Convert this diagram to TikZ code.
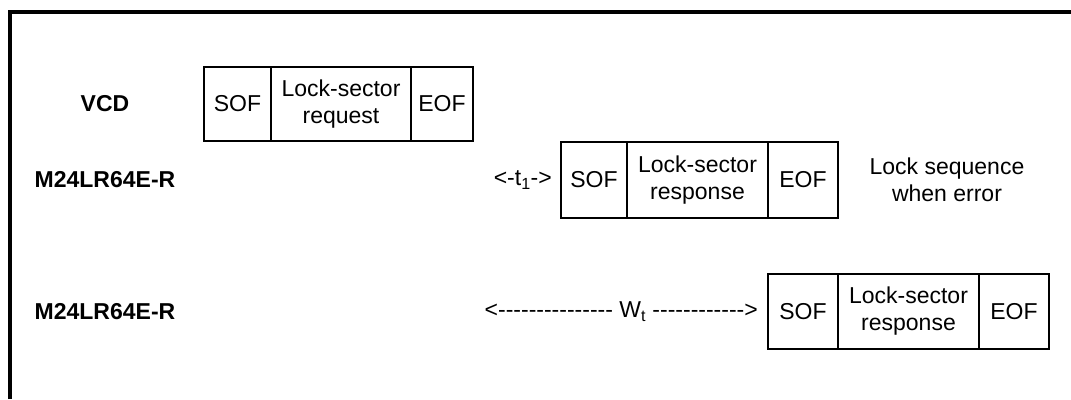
\documentclass[tikz,border=0pt]{standalone}
\usepackage{fontspec}
\setmainfont{Liberation Sans}
\usetikzlibrary{positioning}

\newcommand\figfont{\fontsize{23}{27}\selectfont}
\newcommand\dashrun[1]{\foreach \i in {1,...,#1}{-\kern0pt}}
\tikzset{
  cell/.style={draw, line width=2.4pt, outer sep=0pt, inner sep=0pt, align=center},
  rowlab/.style={font=\figfont\bfseries, inner sep=0pt, anchor=west},
  gaplab/.style={inner sep=0pt}
}

\begin{document}
\begin{tikzpicture}[x=1pt,y=-1pt,every node/.style={font=\figfont}]
\useasboundingbox (0,0) rectangle (1071,399);
\draw[line width=3.2pt] (10,399) -- (10,12) -- (1071,12);

\node[rowlab, anchor=center] (vcd) at (105,104) {VCD};
\node[cell, minimum width=67pt, minimum height=74pt] (qsof) at (237.5,104) {SOF};
\node[cell, minimum width=140pt, minimum height=74pt, right=0pt of qsof] (qbody) {Lock-sector\\request};
\node[cell, minimum width=62pt, minimum height=74pt, right=0pt of qbody] (qeof) {EOF};

\node[rowlab] (tagone) at (34.5,180) {M24LR64E-R};
\node[cell, minimum width=66pt, minimum height=76pt] (asof) at (594,180) {SOF};
\node[cell, minimum width=141pt, minimum height=76pt, right=0pt of asof] (abody) {Lock-sector\\response};
\node[cell, minimum width=70pt, minimum height=76pt, right=0pt of abody] (aeof) {EOF};
\node[gaplab, left=9pt of asof] (tone) {<-t\textsubscript{1}->};
\node[align=center] (note) at (947,180) {Lock sequence\\when error};

\node[rowlab] (tagtwo) at (34.5,311.5) {M24LR64E-R};
\node[cell, minimum width=70pt, minimum height=75pt] (bsof) at (803,311.5) {SOF};
\node[cell, minimum width=141pt, minimum height=75pt, right=0pt of bsof] (bbody) {Lock-sector\\response};
\node[cell, minimum width=70pt, minimum height=75pt, right=0pt of bbody] (beof) {EOF};
\node[gaplab, left=10pt of bsof] (wt) {<\dashrun{15} W\textsubscript{t} \dashrun{12}>};
\end{tikzpicture}
\end{document}
